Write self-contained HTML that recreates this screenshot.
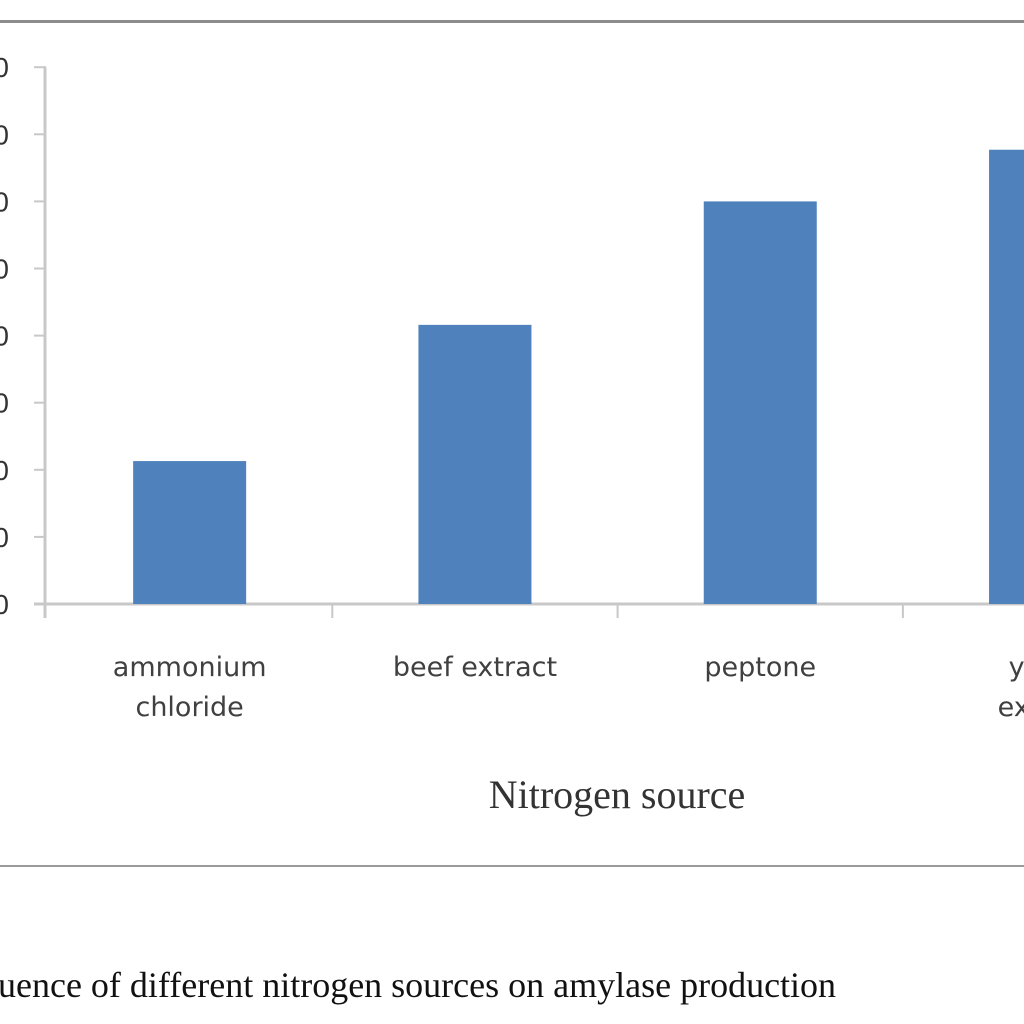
<!DOCTYPE html>
<html><head><meta charset="utf-8"><style>
html,body{margin:0;padding:0;background:#fff;width:1024px;height:1024px;overflow:hidden}
</style></head><body>
<svg id="chart" width="1024" height="1024" xmlns="http://www.w3.org/2000/svg">
<rect x="0" y="20" width="1024" height="3" fill="#8c8c8c"/>
<rect x="0" y="865" width="1024" height="2" fill="#9a9a9a"/>
<g id="axes"></g>
<g id="bars"></g>
<text x="617" y="808" text-anchor="middle" font-family="Liberation Serif, serif" font-size="40" fill="#333">Nitrogen source</text>
<text x="-2" y="997" font-family="Liberation Serif, serif" font-size="36" fill="#111">uence of different nitrogen sources on amylase production</text>
</svg>
<script>
const categories = ["ammonium chloride", "beef extract", "peptone", "yeast extract"];
const values = [2.13, 4.16, 6.0, 6.77];
const tickLabels = ["0","10","20","30","40","50","60","70","80"];
const tickValues = [0,1,2,3,4,5,6,7,8];

const NS = "http://www.w3.org/2000/svg";
const x0 = 47, bandW = 285.3, baseY = 604, unit = 67.1, barW = 113;
const yScale = v => baseY - v * unit;
const xCenter = i => x0 + bandW * (i + 0.5);
const axes = document.getElementById("axes");
const bars = document.getElementById("bars");
function mk(tag, attrs, parent){const e=document.createElementNS(NS,tag);for(const k in attrs)e.setAttribute(k,attrs[k]);parent.appendChild(e);return e;}

const yAxis = mk("line",{x1:45,y1:yScale(8),x2:45,y2:baseY+14,stroke:"#c8c8c8","stroke-width":3},axes);


tickValues.forEach((v,i)=>{
  const t = mk("line",{x1:34,y1:yScale(v),x2:46,y2:yScale(v),stroke:"#c8c8c8","stroke-width":2},axes);
  
  
  const l = mk("text",{x:9,y:yScale(v)+10,"text-anchor":"end","font-family":"Liberation Sans, sans-serif","font-size":28,fill:"#333"},axes);
  l.textContent = tickLabels[i];
  
  
});
const xAxis = mk("line",{x1:34,y1:baseY,x2:1024,y2:baseY,stroke:"#c8c8c8","stroke-width":3},axes);


for(let i=1;i<=categories.length;i++){
  const t = mk("line",{x1:x0+bandW*i,y1:baseY,x2:x0+bandW*i,y2:baseY+14,stroke:"#c8c8c8","stroke-width":2},axes);
  
  
}
categories.forEach((c,i)=>{
  const b = mk("rect",{x:xCenter(i)-barW/2,y:yScale(values[i]),width:barW,height:baseY-yScale(values[i]),fill:"#4f81bd"},bars);
  
  
  const words = c.split(" ");
  const lines = (c === "beef extract") ? [c] : words;
  lines.forEach((w,j)=>{
    const l = mk("text",{x:xCenter(i),y:676+j*40,"text-anchor":"middle","font-family":"DejaVu Sans, sans-serif","font-size":27,fill:"#404040"},axes);
    l.textContent = w;
    
    
  });
});
</script>
</body></html>
